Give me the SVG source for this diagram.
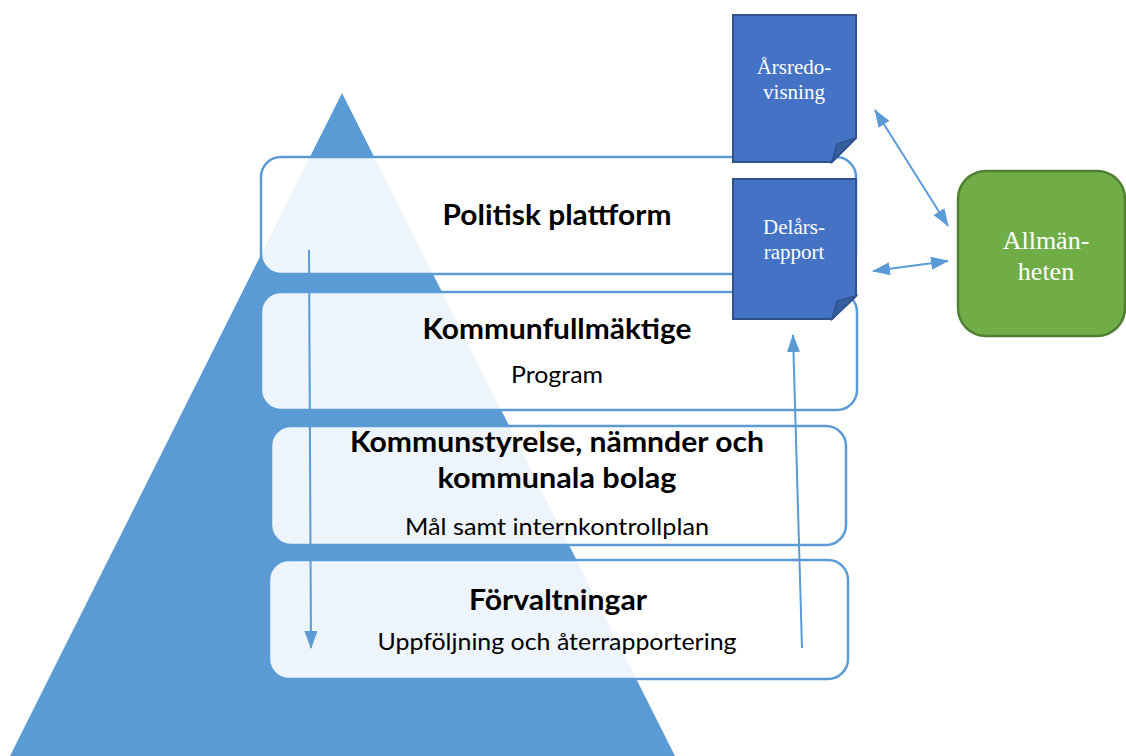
<svg xmlns="http://www.w3.org/2000/svg" width="1126" height="756" viewBox="0 0 1126 756">
<style>
.box{fill:#ffffff;fill-opacity:0.89;stroke:#5B9BD5;stroke-width:2.5}
.doc{fill:#4472C4;stroke:#2F528F;stroke-width:2}
.fold{fill:#365F9F;stroke:#2F528F;stroke-width:1.5}
.t{font-family:Lato,"Liberation Sans",sans-serif;fill:#000;text-anchor:middle}
.b{font-weight:bold;font-size:28px}
.n{font-size:23px}
.s{font-family:"Liberation Serif",serif;fill:#fff;text-anchor:middle}
.c{stroke:#5B9BD5;stroke-width:2;fill:none}
</style>
<defs>
<marker id="ah2" viewBox="0 0 18 13" refX="17" refY="6.5" markerWidth="18" markerHeight="13" orient="auto-start-reverse" markerUnits="userSpaceOnUse">
<path d="M0,0 L18,6.5 L0,13 Z" fill="#5B9BD5"/>
</marker>
</defs>
<g id="pyramid"><path d="M342,93 L678,762 L7,762 Z" fill="#5B9BD5"/></g>
<g id="politisk"><rect class="box" x="261" y="157" width="595" height="117" rx="20"/><text class="t b" x="557" y="225" textLength="229" lengthAdjust="spacingAndGlyphs">Politisk plattform</text></g>
<g id="kf"><rect class="box" x="261" y="292" width="596" height="118" rx="20"/><text class="t b" x="557" y="339" textLength="269" lengthAdjust="spacingAndGlyphs">Kommunfullmäktige</text><text class="t n" x="557" y="383" textLength="92" lengthAdjust="spacingAndGlyphs">Program</text></g>
<g id="ks"><rect class="box" x="271" y="426" width="575" height="119" rx="20"/><text class="t b" x="557" y="452" textLength="414" lengthAdjust="spacingAndGlyphs">Kommunstyrelse, nämnder och</text><text class="t b" x="557" y="488" textLength="239" lengthAdjust="spacingAndGlyphs">kommunala bolag</text><text class="t n" x="557" y="535" textLength="304" lengthAdjust="spacingAndGlyphs">Mål samt internkontrollplan</text></g>
<g id="forv"><rect class="box" x="269" y="560" width="579" height="119" rx="20"/><text class="t b" x="558" y="610" textLength="178" lengthAdjust="spacingAndGlyphs">Förvaltningar</text><text class="t n" x="557" y="650" textLength="359" lengthAdjust="spacingAndGlyphs">Uppföljning och återrapportering</text></g>
<g id="arsredovisning"><path class="doc" d="M733,15 H856 V138 L832,162 H733 Z"/><path class="fold" d="M832,162 L837,144 L856,138 Z"/><text class="s" font-size="21" x="794" y="74">Årsredo-</text><text class="s" font-size="21" x="794" y="99">visning</text></g>
<g id="delarsrapport"><path class="doc" d="M733,179 H856 V296 L832,319 H733 Z"/><path class="fold" d="M832,319 L837,301 L856,296 Z"/><text class="s" font-size="21" x="794" y="234">Delårs-</text><text class="s" font-size="21" x="794" y="259">rapport</text></g>
<g id="allmanheten"><rect x="958" y="171" width="167" height="165" rx="28" fill="#70AD47" stroke="#507E32" stroke-width="2.5"/><text class="s" font-size="26" x="1046" y="249">Allmän-</text><text class="s" font-size="26" x="1046" y="280">heten</text></g>
<g id="connectors">
<line class="c" x1="309" y1="250" x2="311" y2="648" marker-end="url(#ah2)"/>
<line class="c" x1="802" y1="648" x2="793" y2="335" marker-end="url(#ah2)"/>
<line class="c" x1="875" y1="110" x2="948" y2="226" marker-start="url(#ah2)" marker-end="url(#ah2)"/>
<line class="c" x1="873" y1="271" x2="948" y2="261" marker-start="url(#ah2)" marker-end="url(#ah2)"/>
</g>
</svg>
